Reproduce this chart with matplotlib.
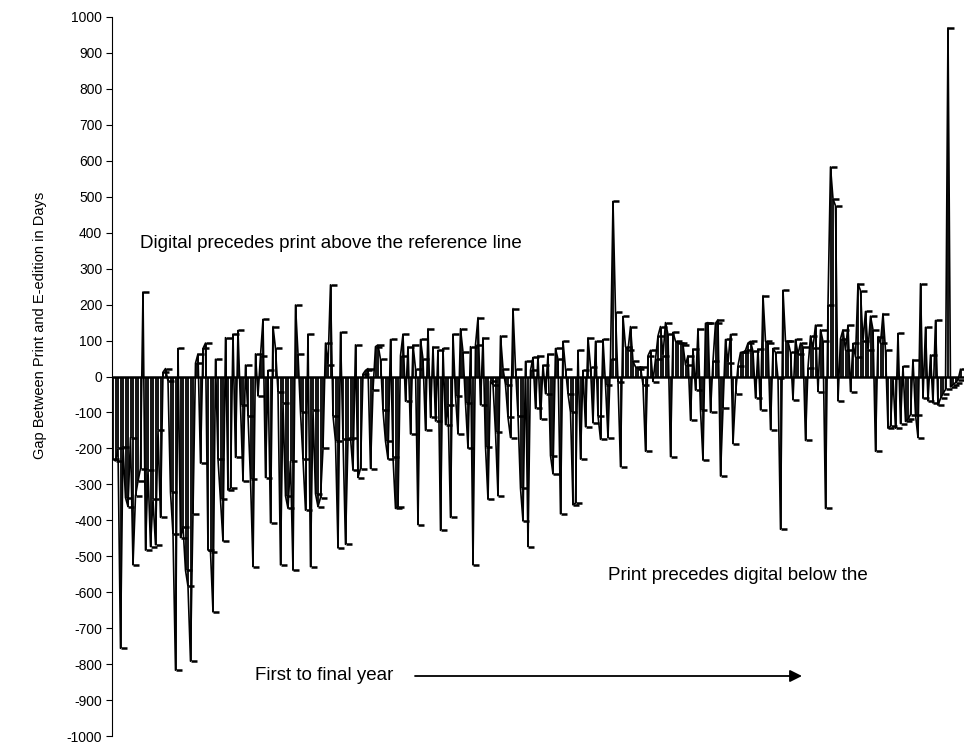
import matplotlib
matplotlib.use("Agg")
import matplotlib.pyplot as plt
from matplotlib.path import Path
import numpy as np

# Gap (days) between print and e-edition release, in order from first to final year
gap_days = [
    -230, -235, -200, -756, -195, -337, -362, -170, -524, -332,
    -291, -256, 235, -483, -261, -473, -342, -468, -150, -392,
    12, 22, -13, -322, -438, -817, 78, -448, -418, -539,
    -584, -792, -382, 37, 63, -241, 78, 93, -483, -488,
    -655, 48, -230, -342, -458, 108, -316, -311, 118, -225,
    128, -79, -291, 32, -109, -286, -529, 63, -54, 58,
    159, -281, 17, -407, 139, 78, -43, -524, -74, -332,
    -367, -236, -539, 199, 63, -99, -230, -372, 118, -529,
    -94, -326, -362, -337, -200, 93, 32, 255, -109, -180,
    -477, 123, -175, -467, -175, -170, -261, 88, -281, -256,
    7, 17, 22, -256, -38, 83, 88, 48, -94, -180,
    -230, 103, -225, -367, -362, 58, 118, -69, 83, -160,
    88, 22, -412, 103, 48, -150, 133, -114, 83, -124,
    73, -428, 78, -134, -79, -392, 118, -54, -160, 133,
    68, -74, -200, 83, -524, 88, 164, -79, 108, -195,
    -342, -13, -23, -155, -332, 113, 22, -23, -114, -170,
    189, 22, -109, -311, -402, 42, -473, 17, 53, -89,
    58, -119, 32, -48, 63, -220, -271, 78, 48, -382,
    98, 22, -48, -99, -357, -352, 73, -230, 17, -140,
    108, 27, -129, 98, -109, -175, 103, -23, -170, 48,
    487, 179, -14, -251, 167, 83, 73, 139, 42, 27,
    22, 27, -23, -208, 58, 73, -14, 48, 113, 139,
    58, 150, 117, -223, 123, 98, 93, 93, 88, 32,
    58, -122, 77, -38, 133, -94, -233, 148, 150, -100,
    43, 148, 158, -277, -89, 103, 38, 117, -187, -50,
    30, 67, 67, 73, 93, 98, 70, -60, 77, -93,
    225, 98, 93, -148, 78, 67, -5, -425, 240, 98,
    98, 67, -65, 103, 62, 93, 83, -178, 25, 113,
    79, 143, -42, 130, 98, -367, 200, 583, 494, 475,
    -68, 105, 130, 73, 143, -42, 92, 54, 258, 239,
    98, 181, 73, 168, 130, -208, 111, 92, 175, 73,
    -144, -138, -4, -144, 120, -131, 28, -125, -119, -106,
    47, -106, -170, 258, -61, 137, -68, 60, -74, 156,
    -80, -61, -48, -36, 970, -29, -23, -17, -10, 20,
]

y_ticks = list(range(-1000, 1001, 100))
y_title = "Gap Between Print and E-edition in Days"
note_above = "Digital precedes print above the reference line"
note_below = "Print precedes digital below the"
note_time = "First to final year"

plt.rcParams["font.family"] = ["Liberation Sans", "DejaVu Sans"]

W, H = 964, 747
fig = plt.figure(figsize=(W / 100, H / 100), dpi=100)
ax = fig.add_axes([112 / W, 11 / H, 852 / W, 719 / H])

x = np.arange(len(gap_days))
# drop lines to the zero reference, the series line, and dash markers
ax.vlines(x, 0, gap_days, color="black", lw=1.3)
ax.plot(x, gap_days, color="black", lw=1.2)
dash = Path([(0, 0), (1, 0)], [Path.MOVETO, Path.LINETO])
ax.plot(x, gap_days, linestyle="none", marker=dash, markersize=9,
        markeredgewidth=1.8, color="black")
ax.axhline(0, color="black", lw=1.8)

ax.set_xlim(-0.4, len(gap_days) - 1 + 1.4)
ax.set_ylim(-1000, 1000)
ax.set_yticks(y_ticks)
ax.set_yticklabels([str(v) for v in y_ticks])
ax.set_xticks([])
ax.tick_params(axis="y", direction="out", length=4, width=0.8,
               labelsize=10, pad=3)
for side in ("top", "right", "bottom"):
    ax.spines[side].set_visible(False)
ax.spines["left"].set_linewidth(0.8)


def px(xp, yp):
    return xp / W, 1 - yp / H


fig.text(*px(40, 325), y_title, rotation=90, ha="center", va="center",
         fontsize=10.5)
fig.text(*px(140, 243), note_above, ha="left", va="center", fontsize=13.5)
fig.text(*px(608, 576), note_below, ha="left", va="center", fontsize=13.5)
fig.text(*px(255, 676), note_time, ha="left", va="center", fontsize=13.5)
ax.annotate("", xy=px(802, 676), xytext=px(415, 676),
            xycoords="figure fraction", textcoords="figure fraction",
            arrowprops=dict(arrowstyle="-|>", color="black", lw=1.3,
                            mutation_scale=18, shrinkA=0, shrinkB=0))

fig.savefig("out.png", dpi=100)
